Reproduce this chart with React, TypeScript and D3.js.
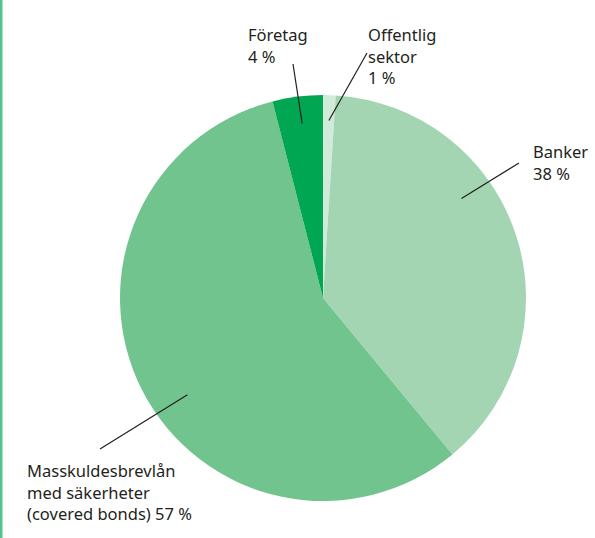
import React from 'react';
import * as d3 from 'd3';

// slices, clockwise from 12 o'clock
const categories = ['Offentlig sektor', 'Banker', 'Masskuldesbrevlån med säkerheter (covered bonds)', 'Företag'];
const shares = [1, 38, 57, 4];
const colors = ['#d1ebd9', '#a3d5b2', '#72c48f', '#00a651'];

// label text lines for each slice
const labelLines = [
  ['Offentlig', 'sektor', '1 %'],
  ['Banker', '38 %'],
  ['Masskuldesbrevlån', 'med säkerheter', '(covered bonds) 57 %'],
  ['Företag', '4 %'],
];

// where the leader line touches the slice (degrees from top, share of radius)
const anchorAngle = [1.9, 54.3, 234.5, -6.8];
const anchorRadius = [0.875, 0.84, 0.82, 0.865];
// label placement: text x, first baseline, leader line outer end
const labelPos = [
  { x: 368, y: 41, lx: 367, ly: 53 },
  { x: 533, y: 158, lx: 519, ly: 163 },
  { x: 27, y: 477, lx: 100, ly: 449 },
  { x: 248, y: 41, lx: 293, ly: 64 },
];

const W = 595;
const H = 538;
const cx = 323;
const cy = 298;
const R = 203;
const lineGap = 21.5;

export default function App() {
  const pie = d3.pie<number>().sort(null).value(d => d);
  const arcs = pie(shares);
  const arc = d3.arc<d3.PieArcDatum<number>>().innerRadius(0).outerRadius(R);

  return (
    <svg width={W} height={H} style={{ position: 'absolute', left: 0, top: 0, background: '#fff' }}
      fontFamily="'Noto Sans', sans-serif">
      <rect x={0} y={0} width={2.5} height={H} fill="#52c48b" />
      <g transform={`translate(${cx},${cy})`}>
        {arcs.map((a, i) => (
          <path key={categories[i]} d={arc(a) ?? ''} fill={colors[i]} />
        ))}
      </g>
      {labelPos.map((p, i) => {
        const ang = (anchorAngle[i] * Math.PI) / 180;
        const ix = cx + R * anchorRadius[i] * Math.sin(ang);
        const iy = cy - R * anchorRadius[i] * Math.cos(ang);
        return (
          <g key={i}>
            <line x1={p.lx} y1={p.ly} x2={ix} y2={iy} stroke="#231f20" strokeWidth={1.2} />
            <text x={p.x} y={p.y} fontSize={16.5} fill="#231f20">
              {labelLines[i].map((t, j) => (
                <tspan key={j} x={p.x} y={p.y + j * lineGap}>{t}</tspan>
              ))}
            </text>
          </g>
        );
      })}
    </svg>
  );
}
